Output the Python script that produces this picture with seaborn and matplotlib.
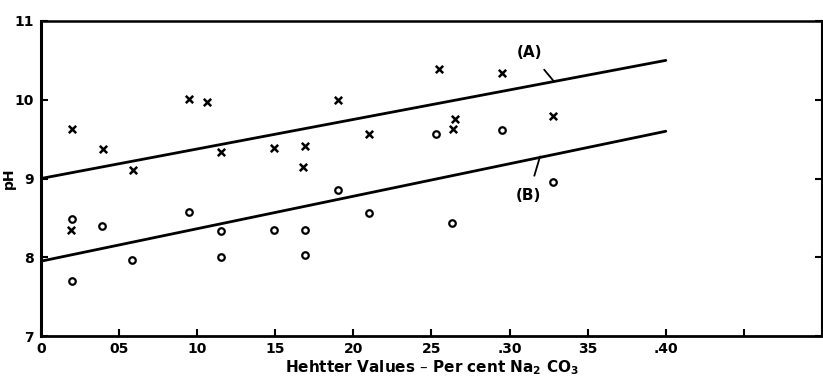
import matplotlib
matplotlib.use("Agg")
import matplotlib.pyplot as plt
import seaborn as sns
import pandas as pd

# Data
cross_x = [0.02, 0.04, 0.059, 0.095, 0.106, 0.115, 0.149, 0.169, 0.168, 0.19, 0.21,
           0.2545, 0.295, 0.265, 0.264, 0.328, 0.019]
cross_y = [9.63, 9.38, 9.11, 10.01, 9.97, 9.34, 9.39, 9.41, 9.15, 10.0, 9.56,
           10.39, 10.34, 9.76, 9.63, 9.80, 8.35]
circle_x = [0.02, 0.02, 0.039, 0.058, 0.095, 0.115, 0.115, 0.149, 0.169, 0.169,
            0.19, 0.21, 0.253, 0.295, 0.263, 0.328]
circle_y = [8.49, 7.70, 8.40, 7.96, 8.58, 8.33, 8.00, 8.35, 8.35, 8.03,
            8.85, 8.56, 9.57, 9.62, 8.44, 8.95]
line_a_x = [0.0, 0.40]
line_a_y = [9.0, 10.5]
line_b_x = [0.0, 0.40]
line_b_y = [7.95, 9.6]
x_ticks = [0.0, 0.05, 0.10, 0.15, 0.20, 0.25, 0.30, 0.35, 0.40, 0.45]
x_tick_labels = ["0", "05", "10", "15", "20", "25", ".30", "35", ".40", ""]
y_ticks = [7, 8, 9, 10, 11]
y_tick_labels = ["7", "8", "9", "10", "11"]

sns.set_theme(style="white")
plt.rcParams['font.family'] = ['DejaVu Sans']
plt.rcParams['text.color'] = 'black'
plt.rcParams['axes.labelcolor'] = 'black'
plt.rcParams['xtick.color'] = 'black'
plt.rcParams['ytick.color'] = 'black'

fig = plt.figure(figsize=(8.23, 3.80), dpi=100)
ax = fig.add_axes([41 / 823, 1 - 336 / 380, 781 / 823, 315 / 380])

df_a = pd.DataFrame({"x": line_a_x, "y": line_a_y})
df_b = pd.DataFrame({"x": line_b_x, "y": line_b_y})
sns.lineplot(data=df_a, x="x", y="y", ax=ax, color="black", linewidth=2.0)
sns.lineplot(data=df_b, x="x", y="y", ax=ax, color="black", linewidth=2.0)

df_x = pd.DataFrame({"x": cross_x, "y": cross_y})
df_o = pd.DataFrame({"x": circle_x, "y": circle_y})
sns.scatterplot(data=df_x, x="x", y="y", ax=ax, marker="x", s=28,
                color="black", linewidth=1.8)
sns.scatterplot(data=df_o, x="x", y="y", ax=ax, marker="o", s=22,
                facecolor="white", edgecolor="black", linewidth=1.6)

ax.set_xlim(0, 0.50)
ax.set_ylim(7, 11)
ax.set_xticks(x_ticks)
ax.set_xticklabels(x_tick_labels, fontsize=10, fontweight="bold")
ax.set_yticks(y_ticks)
ax.set_yticklabels(y_tick_labels, fontsize=10, fontweight="bold")
ax.tick_params(axis="both", direction="in", length=5, width=1.5, color="black",
               labelcolor="black", pad=4, left=True, bottom=True, right=True)
ax.tick_params(axis="y", pad=5)
ax.set_xlabel("Hehtter Values \u2013 Per cent Na$_\\mathbf{2}$ CO$_\\mathbf{3}$",
              fontsize=11, fontweight="bold", labelpad=2)
ax.set_ylabel("pH", fontsize=10, fontweight="bold")
ax.yaxis.set_label_coords(-0.032, 0.5)

for side in ["left", "bottom", "top", "right"]:
    ax.spines[side].set_visible(True)
    ax.spines[side].set_color("black")
ax.spines["left"].set_linewidth(2.2)
ax.spines["bottom"].set_linewidth(2.0)
ax.spines["top"].set_linewidth(1.8)
ax.spines["right"].set_linewidth(1.5)

ax.annotate("(A)", xy=(0.3285, 10.23), xytext=(0.313, 10.6),
            fontsize=11, fontweight="bold", ha="center", va="center",
            arrowprops=dict(arrowstyle="-", color="black", lw=1.3,
                            shrinkA=6, shrinkB=0))
ax.annotate("(B)", xy=(0.3195, 9.28), xytext=(0.312, 8.78),
            fontsize=11, fontweight="bold", ha="center", va="center",
            arrowprops=dict(arrowstyle="-", color="black", lw=1.3,
                            shrinkA=7, shrinkB=0))

fig.savefig("out.png", dpi=100)
